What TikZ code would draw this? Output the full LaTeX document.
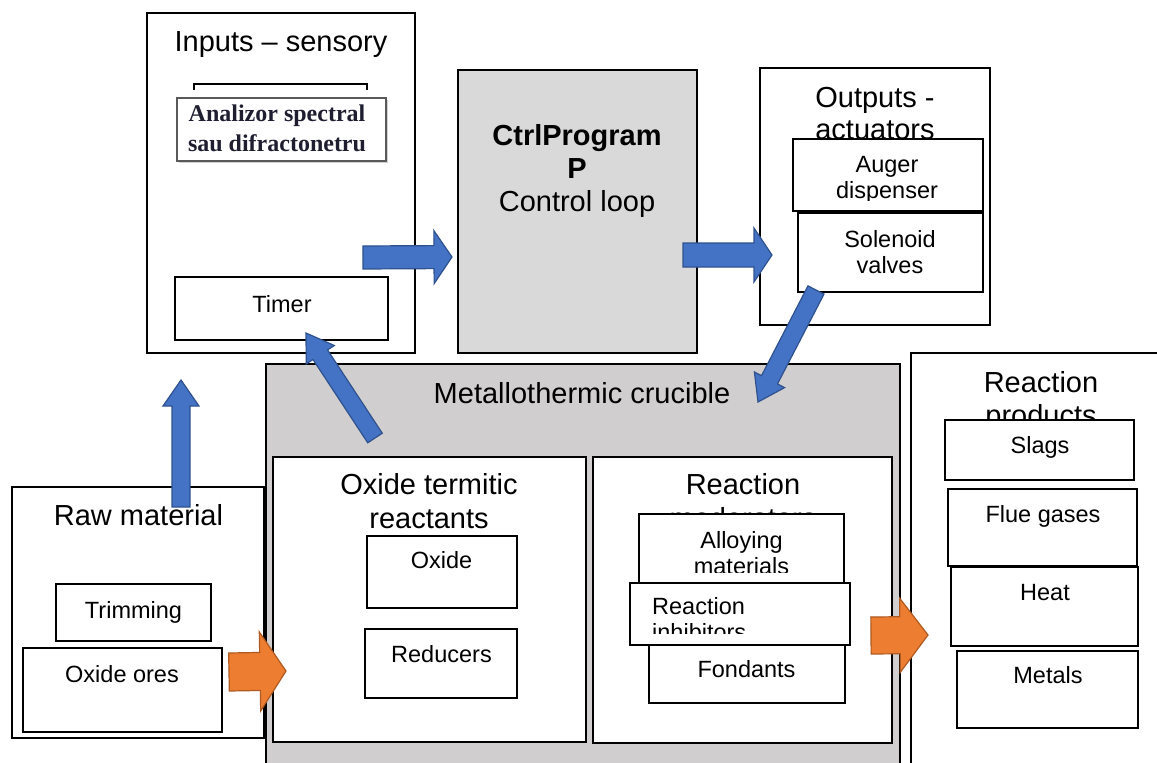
\documentclass[tikz,border=0pt]{standalone}
\usepackage{fontspec}
\setmainfont{Liberation Sans}
\newfontfamily\anfont{Liberation Serif}
\usetikzlibrary{calc,fit}
\definecolor{bluefill}{HTML}{4472C4}
\definecolor{blueedge}{HTML}{2F528F}
\definecolor{orfill}{HTML}{ED7D31}
\definecolor{oredge}{HTML}{AE5A21}
\definecolor{ctrlgray}{HTML}{D9D9D9}
\definecolor{crugray}{HTML}{D0CECE}
\definecolor{antext}{HTML}{1E1E30}
% #1 style, #2 tail, #3 tip, #4 half shaft, #5 half head, #6 head length, #7 name
\newcommand\blockarrow[7]{%
  \coordinate (#7h) at ($(#3)!#6!(#2)$);
  \draw[#1] ($(#2)!#4!90:(#3)$) -- ($(#7h)!#4!90:(#3)$) -- ($(#7h)!#5!90:(#3)$)
    -- (#3) -- ($(#7h)!#5!-90:(#3)$) -- ($(#7h)!#4!-90:(#3)$) -- ($(#2)!#4!-90:(#3)$) -- cycle;
}
\begin{document}
\begin{tikzpicture}[x=1pt,y=-1pt,
  box/.style={draw=black,line width=1.3pt,fill=white,inner sep=0pt},
  big/.style={font=\fontsize{29}{33}\selectfont,inner sep=0pt,anchor=base},
  small/.style={font=\fontsize{23.5}{27}\selectfont,inner sep=0pt,anchor=base},
  antxt/.style={inner sep=0pt,anchor=base,text=antext,font=\anfont\bfseries\fontsize{24}{30}\selectfont},
  bluearrow/.style={fill=bluefill,draw=blueedge,line width=1.2pt},
  orangearrow/.style={fill=orfill,draw=oredge,line width=1.2pt}]
\useasboundingbox (0,0) rectangle (1157,763);
\clip (0,0) rectangle (1157,763);
\fill[white] (0,0) rectangle (1157,763);

% ---------------- Inputs
\node[box,fit={(147,13) (415,353)}] (inputs) {};
\node[big] (inputsT) at (281,51) {Inputs – sensory};
\draw[line width=1.1pt] (194,90) -- (194,84) -- (367,84) -- (367,90);
\fill[gray!35] (179,100) rectangle (388,163);
\node[draw=black!65,line width=2pt,fill=white,inner sep=0pt,fit={(177,98) (386,161)}] (analizor) {};
\node[antxt] (an1) at (277,121) {Analizor spectral};
\node[antxt] (an2) at (277,151) {sau difractonetru};
\node[box,fit={(175,277) (388,340)}] (timer) {};
\node[small] (timerT) at (282,312) {Timer};

% ---------------- Control program
\node[box,fill=ctrlgray,fit={(458,70) (697,353)}] (ctrl) {};
\node[big,font=\fontsize{29}{33}\selectfont\bfseries] (ctrlA) at (577,145) {CtrlProgram};
\node[big,font=\fontsize{29}{33}\selectfont\bfseries] (ctrlB) at (577,178) {P};
\node[big] (ctrlC) at (577,211) {Control loop};

% ---------------- Outputs
\node[box,fit={(760,68) (990,325)}] (outputs) {};
\node[big] (outA) at (875,107) {Outputs -};
\begin{scope}
\clip (760,68) rectangle (990,139);
\node[big] (outB) at (875,139) {actuators};
\end{scope}
\node[box,fit={(793,139) (983,211)}] (auger) {};
\node[small] (augA) at (887,172) {Auger};
\begin{scope}
\clip (793,139) rectangle (983,200);
\node[small] (augB) at (887,198) {dispenser};
\end{scope}
\node[box,fit={(798,213) (983,292)}] (solenoid) {};
\node[small] (solA) at (890,247) {Solenoid};
\node[small] (solB) at (890,273) {valves};

% ---------------- Crucible
\node[box,fill=crugray,fit={(266,364) (900,800)}] (crucible) {};
\node[big] (cruT) at (582,403) {Metallothermic crucible};

\node[box,fit={(273,457) (586,742)}] (oxterm) {};
\node[big] (oxA) at (429,494) {Oxide termitic};
\node[big] (oxB) at (429,528) {reactants};
\node[box,fit={(367,536) (517,608)}] (oxide) {};
\node[small] (oxideT) at (441.5,568) {Oxide};
\node[box,fit={(365,629) (517,698)}] (reducers) {};
\node[small] (redT) at (441.5,662) {Reducers};

\node[box,fit={(593,457) (892,743)}] (moder) {};
\node[big] (modA) at (743,494) {Reaction};
\begin{scope}
\clip (593,457) rectangle (892,514);
\node[big] (modB) at (743,528) {moderators};
\end{scope}
\node[box,fit={(639,514) (844,583)}] (alloy) {};
\node[small] (allA) at (741.5,548) {Alloying};
\begin{scope}
\clip (639,514) rectangle (844,572);
\node[small] (allB) at (741.5,574) {materials};
\end{scope}
\node[box,fit={(649,645) (845,703)}] (fond) {};
\node[small] (fondT) at (746.5,677) {Fondants};
\node[box,fit={(630,583) (850,645)}] (inhib) {};
\node[small,anchor=base west] (inhA) at (652,614) {Reaction};
\begin{scope}
\clip (630,583) rectangle (850,633);
\node[small,anchor=base west] (inhB) at (652,640) {inhibitors};
\end{scope}

% ---------------- Reaction products
\node[box,fit={(911,353) (1180,800)}] (products) {};
\node[big] (prA) at (1041,392) {Reaction};
\begin{scope}
\clip (911,353) rectangle (1180,420);
\node[big] (prB) at (1041,425) {products};
\end{scope}
\node[box,fit={(945,420) (1134,480)}] (slags) {};
\node[small] (slagsT) at (1040,453) {Slags};
\node[box,fit={(948,489) (1137,566)}] (flue) {};
\node[small] (flueT) at (1043,522) {Flue gases};
\node[box,fit={(951,567) (1138,646)}] (heat) {};
\node[small] (heatT) at (1045,600) {Heat};
\node[box,fit={(957,651) (1138,728)}] (metals) {};
\node[small] (metalsT) at (1048,683) {Metals};

% ---------------- Raw material
\node[box,fit={(12,487) (264,738)}] (raw) {};
\node[big] (rawT) at (138.5,525) {Raw material};
\node[box,fit={(56,584) (211,641)}] (trim) {};
\node[small] (trimT) at (133.5,618) {Trimming};
\node[box,fit={(23,648) (222,732)}] (ores) {};
\node[small] (oresT) at (122,682) {Oxide ores};

% ---------------- Arrows
\coordinate (upS) at (181,507);      \coordinate (upE) at (181,380);
\coordinate (inS) at (363,257.5);    \coordinate (inE) at (452,257);
\coordinate (ctS) at (683,255);      \coordinate (ctE) at (772,255);
\coordinate (soS) at (816,290);      \coordinate (soE) at (758,402);
\coordinate (tmS) at (375,438);      \coordinate (tmE) at (306,333);
\coordinate (orS) at (229,672);      \coordinate (orE) at (286,671);
\coordinate (prS) at (871,635.5);    \coordinate (prE) at (928,635);

\blockarrow{bluearrow}{upS}{upE}{9pt}{18pt}{26pt}{a1}
\blockarrow{bluearrow}{inS}{inE}{11.5pt}{26.5pt}{18pt}{a2}
\blockarrow{bluearrow}{ctS}{ctE}{12pt}{27pt}{18pt}{a3}
\blockarrow{bluearrow}{soS}{soE}{9pt}{17pt}{25pt}{a4}
\blockarrow{bluearrow}{tmS}{tmE}{8.7pt}{16.8pt}{26pt}{a5}
\blockarrow{orangearrow}{orS}{orE}{19pt}{39.5pt}{26pt}{a6}
\blockarrow{orangearrow}{prS}{prE}{18.5pt}{37pt}{28pt}{a7}
\end{tikzpicture}
\end{document}
